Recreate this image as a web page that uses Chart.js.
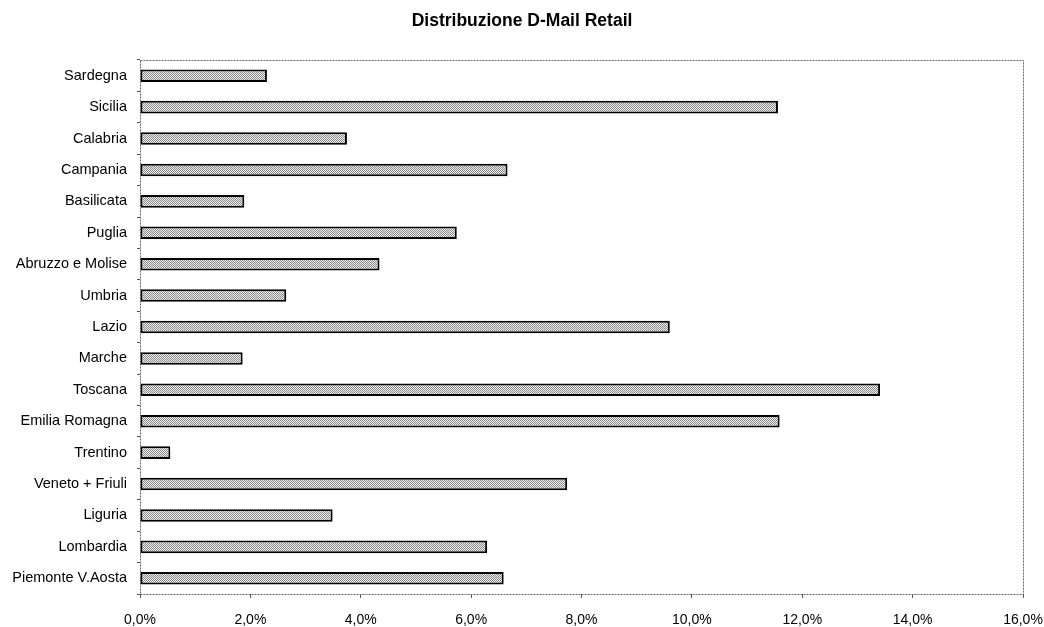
<!DOCTYPE html>
<html>
<head>
<meta charset="utf-8">
<script src="https://cdn.jsdelivr.net/npm/chart.js@4"></script>
<style>
  html, body { margin: 0; padding: 0; background: #fff; }
  #wrap { width: 1044px; height: 627px; }
</style>
</head>
<body>
<div id="wrap"><canvas id="chart"></canvas></div>
<script>
// regioni, dall'alto verso il basso
var regioni = ['Sardegna', 'Sicilia', 'Calabria', 'Campania', 'Basilicata', 'Puglia',
  'Abruzzo e Molise', 'Umbria', 'Lazio', 'Marche', 'Toscana', 'Emilia Romagna',
  'Trentino', 'Veneto + Friuli', 'Liguria', 'Lombardia', 'Piemonte V.Aosta'];
// quota in %
var quote = [2.30, 11.56, 3.75, 6.66, 1.89, 5.74, 4.34, 2.65, 9.60, 1.86, 13.41, 11.59,
  0.55, 7.74, 3.49, 6.29, 6.59];
var asseX = [0, 2, 4, 6, 8, 10, 12, 14, 16];

// retino grigio puntinato come nell'originale
function retino() {
  var c = document.createElement('canvas');
  c.width = 2; c.height = 2;
  var g = c.getContext('2d');
  g.fillStyle = '#eeeeee'; g.fillRect(0, 0, 2, 2);
  g.fillStyle = '#8a8a8a';
  g.fillRect(0, 0, 1, 1);
  g.fillRect(1, 1, 1, 1);
  return g.createPattern(c, 'repeat');
}

// bordo tratteggiato attorno all'area del grafico
var bordo = {
  id: 'bordo',
  beforeDatasetsDraw: function(chart) {
    var a = chart.chartArea, ctx = chart.ctx;
    ctx.save();
    ctx.strokeStyle = '#666';
    ctx.lineWidth = 1;
    ctx.setLineDash([2, 1]);
    ctx.strokeRect(Math.round(a.left) + 0.5, Math.round(a.top) + 0.5,
      Math.round(a.right - a.left), Math.round(a.bottom - a.top));
    ctx.restore();
  }
};

Chart.defaults.font.family = '"Liberation Sans", Arial, sans-serif';
Chart.defaults.color = '#000';

var chrt = document.getElementById('chart').getContext('2d');
var grafico = new Chart(chrt, {
  type: 'bar',
  data: {
    labels: regioni,
    datasets: [{
      data: quote,
      backgroundColor: retino(),
      borderColor: '#000',
      borderWidth: 2,
      borderSkipped: false,
      barPercentage: 0.4,
      categoryPercentage: 1
    }]
  },
  plugins: [bordo],
  options: {
    indexAxis: 'y',
    responsive: true,
    maintainAspectRatio: false,
    animation: false,
    layout: { padding: 0 },
    plugins: {
      legend: { display: false },
      tooltip: { enabled: false },
      title: {
        display: true,
        text: 'Distribuzione D-Mail Retail',
        font: { size: 17.5, weight: 'bold' },
        padding: { top: 11, bottom: 28 }
      }
    },
    scales: {
      x: {
        min: 0, max: 16,
        afterBuildTicks: function(s) { s.ticks = asseX.map(function(v) { return { value: v }; }); },
        afterFit: function(s) { s.height = 33; s.paddingRight = 21; s.paddingLeft = 0; },
        ticks: {
          font: { size: 14, lineHeight: 1 },
          padding: 15,
          maxRotation: 0,
          callback: function(v) { return v.toFixed(1).replace('.', ',') + '%'; }
        },
        grid: { drawOnChartArea: false, tickLength: 4, color: '#555' },
        border: { display: false }
      },
      y: {
        afterFit: function(s) { s.width = 140; },
        ticks: { font: { size: 14.5 }, padding: 10 },
        grid: { offset: true, drawOnChartArea: false, tickLength: 3, color: '#555' },
        border: { display: false }
      }
    }
  }
});
</script>
</body>
</html>
